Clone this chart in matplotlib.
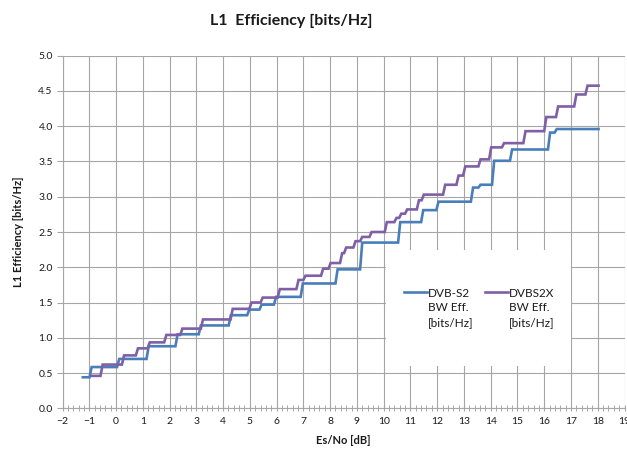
import numpy as np
import matplotlib
matplotlib.use("Agg")
import matplotlib.pyplot as plt
from matplotlib.patches import Rectangle
from matplotlib.ticker import MultipleLocator

plt.rcParams["font.family"] = ["Lato", "DejaVu Sans"]

# === data ===
# each step: threshold Es/No [dB] where the level starts, efficiency [bits/Hz]
s2_esno = [-1.24, -0.91, 0.12, 1.22, 2.30, 3.17, 4.29, 4.98, 5.44, 5.98,
           6.98, 8.28, 9.20, 10.62, 11.48, 12.05, 13.34, 13.62, 14.13,
           14.80, 16.22, 16.47]
s2_eff = [0.44, 0.585, 0.70, 0.88, 1.05, 1.175, 1.32, 1.40, 1.47, 1.58,
          1.77, 1.97, 2.35, 2.64, 2.81, 2.93, 3.13, 3.17, 3.51,
          3.67, 3.91, 3.96]
s2_end = 18.03

s2x_esno = [-0.92, -0.50, 0.30, 0.82, 1.26, 1.88, 2.48, 3.25, 4.36, 5.06,
            5.48, 6.12, 6.82, 7.08, 7.74, 8.02, 8.45, 8.60, 8.95, 9.20,
            9.55, 10.12, 10.48, 10.66, 10.88, 11.32, 11.50, 12.30, 12.80,
            13.05, 13.62, 14.02, 14.50, 15.30, 16.08, 16.52, 17.20, 17.62]
s2x_eff = [0.46, 0.62, 0.75, 0.85, 0.935, 1.04, 1.13, 1.26, 1.41, 1.50,
           1.57, 1.69, 1.82, 1.88, 1.98, 2.06, 2.20, 2.28, 2.37, 2.43,
           2.50, 2.64, 2.70, 2.76, 2.82, 2.95, 3.03, 3.17, 3.30,
           3.43, 3.53, 3.70, 3.76, 3.93, 4.13, 4.28, 4.45, 4.575]
s2x_end = 18.03

labels = ["DVB-S2\nBW Eff.\n[bits/Hz]", "DVBS2X\nBW Eff.\n[bits/Hz]"]
colors = ["#4A7EBB", "#7F5FA6"]

RISE = 0.08  # width of the slanted step edges


def step_path(esno, eff, end):
    xs, ys = [], []
    for i, (x, y) in enumerate(zip(esno, eff)):
        nxt = esno[i + 1] - RISE if i + 1 < len(esno) else end
        xs += [x, nxt]
        ys += [y, y]
    return np.array(xs), np.array(ys)


fig = plt.figure(figsize=(6.27, 4.49), dpi=100)
ax = fig.add_axes([62.5 / 627, 1 - 408.3 / 449, 562 / 627, 352.6 / 449])

GRID = "#a6a6a6"
TXT = "#1a1a1a"

lines = []
for esno, eff, end, c, lab in [(s2_esno, s2_eff, s2_end, colors[0], labels[0]),
                               (s2x_esno, s2x_eff, s2x_end, colors[1], labels[1])]:
    x, y = step_path(esno, eff, end)
    ln, = ax.plot(x, y, color=c, lw=1.9, label=lab, zorder=3,
                  solid_joinstyle="miter")
    lines.append(ln)

ax.set_xlim(-2, 19)
ax.set_ylim(0, 5)
ax.xaxis.set_major_locator(MultipleLocator(1))
ax.xaxis.set_minor_locator(MultipleLocator(0.2))
ax.yaxis.set_major_locator(MultipleLocator(0.5))
ax.yaxis.set_major_formatter(matplotlib.ticker.FormatStrFormatter("%.1f"))

ax.grid(True, which="major", color=GRID, lw=0.8)
ax.set_axisbelow(True)
for side in ["top", "right"]:
    ax.spines[side].set_visible(False)
for side in ["left", "bottom"]:
    ax.spines[side].set_color(GRID)
    ax.spines[side].set_linewidth(0.8)

ax.tick_params(axis="x", which="major", direction="inout", length=5,
               color=GRID, labelsize=7.5, labelcolor=TXT, pad=4)
ax.tick_params(axis="x", which="minor", direction="inout", length=5,
               color=GRID, width=0.7)
ax.tick_params(axis="y", which="major", direction="out", length=4,
               color=GRID, labelsize=7.5, labelcolor=TXT, pad=3)

ax.set_xlabel("Es/No [dB]", fontsize=8, fontweight="bold", color=TXT,
              labelpad=6)
ax.set_ylabel("L1 Efficiency [bits/Hz]", fontsize=8, fontweight="bold",
              color=TXT, labelpad=10)
fig.text(0.464, 0.953, "L1  Efficiency [bits/Hz]", fontsize=11.5,
         fontweight="bold", color=TXT, ha="center", va="center")

# white legend area covering the grid
ax.add_patch(Rectangle((0.575, 0.12), 0.329, 0.329, transform=ax.transAxes,
                       facecolor="white", edgecolor="none", zorder=2.5))
leg = ax.legend(handles=lines, ncol=2, frameon=False, fontsize=8.5,
                loc="upper left", bbox_to_anchor=(0.6, 0.355),
                handlelength=1.9, handletextpad=0.1, columnspacing=1.0,
                borderaxespad=0)
leg.set_zorder(4)
for t in leg.get_texts():
    t.set_color(TXT)
    t.set_linespacing(1.4)
for h in leg.legend_handles:
    h.set_linewidth(1.9)
    h.set_ydata(np.asarray(h.get_ydata()) + 11.5)

fig.savefig("out.png", dpi=100)
